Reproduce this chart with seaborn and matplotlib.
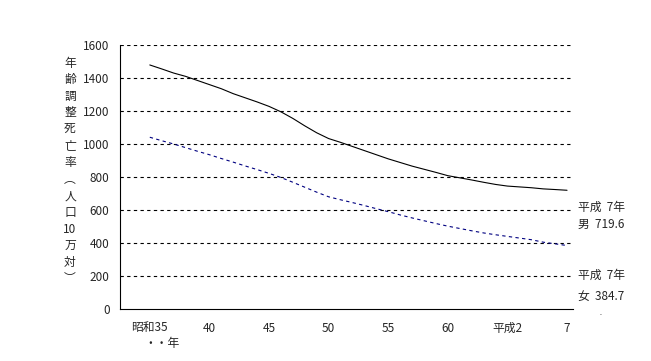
import numpy as np
import pandas as pd
import matplotlib.pyplot as plt
import seaborn as sns

# 年次 (昭和35年=1960 ～ 平成7年=1995)
years = list(range(1960, 1996))

# 年齢調整死亡率 (人口10万対) 男
male = [1479, 1455, 1430, 1410, 1385, 1360, 1335, 1305, 1280, 1255,
        1228, 1195, 1155, 1110, 1068, 1033, 1010, 985, 960, 935,
        910, 888, 866, 847, 828, 808, 795, 782, 768, 755,
        745, 740, 735, 728, 724, 719.6]
# 女
female = [1041, 1020, 1000, 978, 956, 935, 912, 890, 867, 845,
          822, 797, 768, 738, 708, 680, 662, 645, 627, 608,
          590, 570, 552, 535, 518, 502, 488, 474, 461, 450,
          440, 430, 420, 405, 395, 384.7]

tick_years = [1960, 1965, 1970, 1975, 1980, 1985, 1990, 1995]
tick_labels = ['昭和35', '40', '45', '50', '55', '60', '平成2', '7']
ylabel_chars = ['年', '齢', '調', '整', '死', '亡', '率', '︵', '人', '口', '10', '万', '対', '︶']

df = pd.DataFrame({'年': years, '男': male, '女': female})

sns.set_style('white')
plt.rcParams['font.family'] = ['Noto Sans CJK JP', 'DejaVu Sans']
plt.rcParams['font.size'] = 8.5

fig = plt.figure(figsize=(6.51, 3.61), dpi=100)
ax = fig.add_axes([120/651, 1-309/361, (573-120)/651, (309-45)/361])

sns.lineplot(data=df, x='年', y='男', color='black', linewidth=0.8, ax=ax)
sns.lineplot(data=df, x='年', y='女', color='#000080', linewidth=0.8,
             dashes=False, ax=ax)
ax.lines[-1].set_dashes([3, 3])

ax.set_xlim(1957.5, 1995.5)
ax.set_ylim(0, 1600)
ax.set_yticks(range(0, 1601, 200))
for v in range(200, 1601, 200):
    ax.axhline(v, color='black', linewidth=0.8, dashes=(3, 3), zorder=0)

ax.set_xticks(tick_years)
ax.set_xticklabels(tick_labels)
ax.set_xticks(np.arange(1957.5, 1995, 5), minor=True)
ax.tick_params(axis='x', which='major', length=0, pad=9)
ax.tick_params(axis='x', which='minor', direction='out', length=3, width=0.8, color='black')
ax.tick_params(axis='y', direction='inout', length=7, width=0.8, color='black', pad=4)

sns.despine(ax=ax, top=True, right=True)
ax.spines['left'].set_color('black')
ax.spines['bottom'].set_color('black')
ax.spines['left'].set_linewidth(0.8)
ax.spines['bottom'].set_linewidth(0.8)
ax.set_xlabel('')
ax.set_ylabel('')

fig.text(70/651, 1-171/361, '\n'.join(ylabel_chars), ha='center', va='center',
         linespacing=1.36)
fig.text(162/651, 1-343/361, '・・年', ha='center', va='center')

fig.text(578/651, 1-207/361, '平成  7年', ha='left', va='center')
fig.text(578/651, 1-224/361, '男  719.6', ha='left', va='center')
fig.text(578/651, 1-275/361, '平成  7年', ha='left', va='center')
fig.text(578/651, 1-296/361, '女  384.7', ha='left', va='center')
fig.text(600/651, 1-313/361, '.', ha='center', va='center', fontsize=5)

fig.savefig('out.png', dpi=100)
